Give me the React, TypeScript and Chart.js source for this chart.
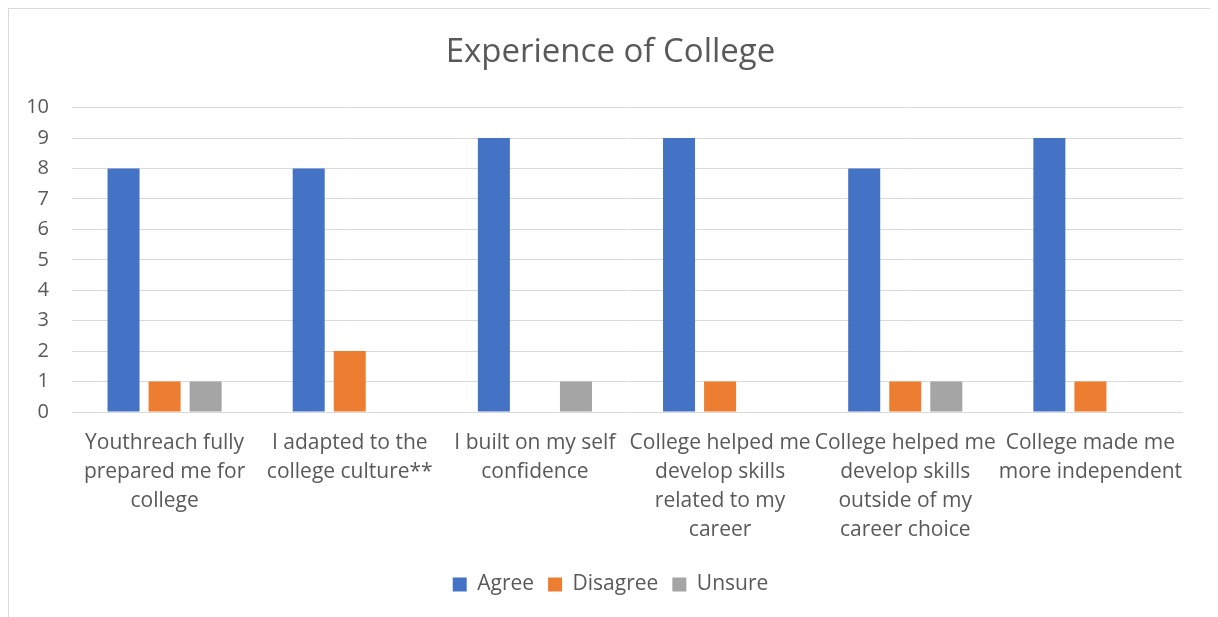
import React, { useEffect, useRef } from "react";
import { Chart, registerables } from "chart.js";

Chart.register(...registerables);

const categories: string[][] = [
  ["Youthreach fully", "prepared me for", "college"],
  ["I adapted to the", "college culture**"],
  ["I built on my self", "confidence"],
  ["College helped me", "develop skills", "related to my", "career"],
  ["College helped me", "develop skills", "outside of my", "career choice"],
  ["College made me", "more independent"],
];
const agree = [8, 8, 9, 9, 8, 9];
const disagree = [1, 2, 0, 1, 1, 1];
const unsure = [1, 0, 1, 0, 1, 0];
const yTicks = [0, 1, 2, 3, 4, 5, 6, 7, 8, 9, 10];

const FONT = "'Open Sans', 'Noto Sans', sans-serif";
const TEXT = "#595959";

export default function App() {
  const ref = useRef<HTMLCanvasElement | null>(null);
  useEffect(() => {
    if (!ref.current) return;
    const chart = new Chart(ref.current, {
      type: "bar",
      data: {
        labels: categories,
        datasets: [
          { label: "Agree", data: agree, backgroundColor: "#4472C4" },
          { label: "Disagree", data: disagree, backgroundColor: "#ED7D31" },
          { label: "Unsure", data: unsure, backgroundColor: "#A5A5A5" },
        ],
      },
      options: {
        responsive: false,
        animation: false,
        layout: { padding: { left: 0, right: 0, top: 0, bottom: 14 } },
        datasets: { bar: { categoryPercentage: 0.665, barPercentage: 0.78 } },
        plugins: {
          title: {
            display: true,
            text: "Experience of College",
            color: TEXT,
            font: { family: FONT, size: 33, weight: "normal" },
            padding: { top: 24, bottom: 35 },
          },
          legend: {
            position: "bottom",
            labels: {
              color: TEXT,
              font: { family: FONT, size: 21 },
              boxWidth: 14,
              boxHeight: 14,
              padding: 14,
            },
          },
          tooltip: { enabled: false },
        },
        scales: {
          x: {
            grid: { display: false, drawTicks: false },
            border: { display: false },
            ticks: {
              color: TEXT,
              font: { family: FONT, size: 21, lineHeight: 1.38 },
              maxRotation: 0,
              autoSkip: false,
              padding: 17,
            },
            afterFit: (s: any) => {
              s.height = 148;
            },
          },
          y: {
            min: 0,
            max: 10,
            afterBuildTicks: (s: any) => {
              s.ticks = yTicks.map((v) => ({ value: v }));
            },
            grid: { color: "#D9D9D9", lineWidth: 1, drawTicks: false },
            border: { display: false },
            ticks: {
              color: TEXT,
              font: { family: FONT, size: 20 },
              padding: 23,
            },
            afterFit: (s: any) => {
              s.width = 63;
            },
          },
          ySpacer: {
            position: "right",
            display: true,
            grid: { display: false, drawTicks: false },
            border: { display: false },
            ticks: { display: false },
            afterFit: (s: any) => {
              s.width = 29;
            },
          },
        },
      },
    });
    return () => chart.destroy();
  }, []);
  return (
    <div style={{ width: 1203, height: 610, border: "1px solid #D9D9D9", background: "#fff" }}>
      <canvas ref={ref} width={1203} height={610} style={{ display: "block" }} />
    </div>
  );
}
